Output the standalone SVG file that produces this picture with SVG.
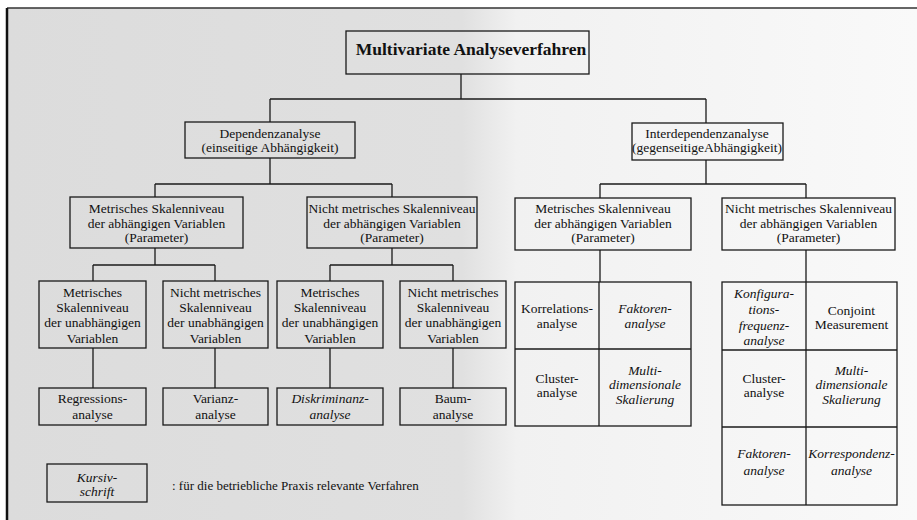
<svg xmlns="http://www.w3.org/2000/svg" width="917" height="520" viewBox="0 0 917 520">
<defs>
<linearGradient id="bg" x1="0" y1="0" x2="1" y2="0">
<stop offset="0" stop-color="#dcdcdc"/>
<stop offset="0.5" stop-color="#e0e0e0"/>
<stop offset="0.56" stop-color="#f1f1f1"/>
<stop offset="1" stop-color="#f9f9f9"/>
</linearGradient>
<style>
.b{fill:none;stroke:#1a1a1a;stroke-width:1.3}
.c line{stroke:#1a1a1a;stroke-width:1.3}
text{font-family:'Liberation Serif','Times New Roman',serif;font-size:13.5px;fill:#111;text-anchor:middle}
.i{font-style:italic}
.t{font-size:17.5px;font-weight:bold}
.l{text-anchor:start;font-size:13px}
</style>
</defs>
<rect x="0" y="0" width="917" height="520" fill="#fff"/>
<rect x="7" y="8" width="910" height="512" fill="url(#bg)"/>
<line x1="7" y1="8" x2="917" y2="8" stroke="#333" stroke-width="1.5"/>
<line x1="7" y1="8" x2="7" y2="520" stroke="#111" stroke-width="2.5"/>

<g id="connectors" class="c">
<line x1="461" y1="74" x2="461" y2="99"/>
<line x1="270" y1="99" x2="706" y2="99"/>
<line x1="270" y1="99" x2="270" y2="122"/>
<line x1="706" y1="99" x2="706" y2="123"/>
<line x1="270" y1="158" x2="270" y2="184"/>
<line x1="155" y1="184" x2="392" y2="184"/>
<line x1="155" y1="184" x2="155" y2="197"/>
<line x1="392" y1="184" x2="392" y2="197"/>
<line x1="706" y1="160" x2="706" y2="184"/>
<line x1="600" y1="184" x2="806" y2="184"/>
<line x1="600" y1="184" x2="600" y2="198"/>
<line x1="806" y1="184" x2="806" y2="198"/>
<line x1="155" y1="248" x2="155" y2="265"/>
<line x1="93" y1="265" x2="215" y2="265"/>
<line x1="93" y1="265" x2="93" y2="281"/>
<line x1="215" y1="265" x2="215" y2="281"/>
<line x1="392" y1="248" x2="392" y2="265"/>
<line x1="330" y1="265" x2="453" y2="265"/>
<line x1="330" y1="265" x2="330" y2="281"/>
<line x1="453" y1="265" x2="453" y2="281"/>
<line x1="93" y1="348" x2="93" y2="388"/>
<line x1="215" y1="348" x2="215" y2="388"/>
<line x1="330" y1="348" x2="330" y2="388"/>
<line x1="453" y1="348" x2="453" y2="388"/>
<line x1="600" y1="250" x2="600" y2="282"/>
<line x1="806" y1="250" x2="806" y2="282"/>
</g>

<g font-family="Liberation Serif, Times New Roman, serif">
<g id="title">
<rect class="b" x="346" y="31" width="243" height="43"/>
<text class="t" x="471" y="55">Multivariate Analyseverfahren</text>
</g>

<g id="dependenz">
<rect class="b" x="185" y="122" width="170" height="36"/>
<text x="270" y="137.5">Dependenzanalyse</text>
<text x="270" y="151.5">(einseitige Abhängigkeit)</text>
</g>
<g id="interdependenz">
<rect class="b" x="632" y="123" width="151" height="37"/>
<text x="707" y="138">Interdependenzanalyse</text>
<text x="707" y="152">(gegenseitigeAbhängigkeit)</text>
</g>

<g id="dep-metrisch">
<rect class="b" x="70" y="197" width="173" height="51"/>
<text x="156.5" y="213">Metrisches Skalenniveau</text>
<text x="156.5" y="227.5">der abhängigen Variablen</text>
<text x="156.5" y="242">(Parameter)</text>
</g>
<g id="dep-nichtmetrisch">
<rect class="b" x="307" y="197" width="170" height="51"/>
<text x="392" y="213">Nicht metrisches Skalenniveau</text>
<text x="392" y="227.5">der abhängigen Variablen</text>
<text x="392" y="242">(Parameter)</text>
</g>
<g id="int-metrisch">
<rect class="b" x="515" y="198" width="176" height="52"/>
<text x="603" y="213">Metrisches Skalenniveau</text>
<text x="603" y="227.5">der abhängigen Variablen</text>
<text x="603" y="242">(Parameter)</text>
</g>
<g id="int-nichtmetrisch">
<rect class="b" x="722" y="198" width="173" height="52"/>
<text x="808.5" y="213">Nicht metrisches Skalenniveau</text>
<text x="808.5" y="227.5">der abhängigen Variablen</text>
<text x="808.5" y="242">(Parameter)</text>
</g>

<g id="mm">
<rect class="b" x="39" y="281" width="107" height="67"/>
<text x="92.5" y="296.5">Metrisches</text>
<text x="92.5" y="311.5">Skalenniveau</text>
<text x="92.5" y="327">der unabhängigen</text>
<text x="92.5" y="342.5">Variablen</text>
</g>
<g id="mn">
<rect class="b" x="163" y="281" width="105" height="67"/>
<text x="215.5" y="296.5">Nicht metrisches</text>
<text x="215.5" y="311.5">Skalenniveau</text>
<text x="215.5" y="327">der unabhängigen</text>
<text x="215.5" y="342.5">Variablen</text>
</g>
<g id="nm">
<rect class="b" x="277" y="281" width="106" height="67"/>
<text x="330" y="296.5">Metrisches</text>
<text x="330" y="311.5">Skalenniveau</text>
<text x="330" y="327">der unabhängigen</text>
<text x="330" y="342.5">Variablen</text>
</g>
<g id="nn">
<rect class="b" x="400" y="281" width="106" height="67"/>
<text x="453" y="296.5">Nicht metrisches</text>
<text x="453" y="311.5">Skalenniveau</text>
<text x="453" y="327">der unabhängigen</text>
<text x="453" y="342.5">Variablen</text>
</g>

<g id="regression">
<rect class="b" x="39" y="388" width="107" height="37"/>
<text x="92.5" y="402.5">Regressions-</text>
<text x="92.5" y="418.5">analyse</text>
</g>
<g id="varianz">
<rect class="b" x="163" y="388" width="105" height="37"/>
<text x="215.5" y="402.5">Varianz-</text>
<text x="215.5" y="418.5">analyse</text>
</g>
<g id="diskriminanz">
<rect class="b" x="277" y="388" width="106" height="37"/>
<text class="i" x="330" y="402.5">Diskriminanz-</text>
<text class="i" x="330" y="418.5">analyse</text>
</g>
<g id="baum">
<rect class="b" x="400" y="388" width="106" height="37"/>
<text x="453" y="402.5">Baum-</text>
<text x="453" y="418.5">analyse</text>
</g>

<g id="grid-metrisch">
<rect class="b" x="515" y="282" width="176" height="144"/>
<line class="b" x1="599" y1="282" x2="599" y2="426"/>
<line class="b" x1="515" y1="349" x2="691" y2="349"/>
<text x="557" y="312.5">Korrelations-</text>
<text x="557" y="327.5">analyse</text>
<text class="i" x="645" y="312.5">Faktoren-</text>
<text class="i" x="645" y="327.5">analyse</text>
<text x="557" y="382.5">Cluster-</text>
<text x="557" y="396.5">analyse</text>
<text class="i" x="645" y="374.5">Multi-</text>
<text class="i" x="645" y="388.5">dimensionale</text>
<text class="i" x="645" y="403.5">Skalierung</text>
</g>

<g id="grid-nichtmetrisch">
<rect class="b" x="722" y="282" width="175" height="223"/>
<line class="b" x1="806" y1="282" x2="806" y2="505"/>
<line class="b" x1="722" y1="350" x2="897" y2="350"/>
<line class="b" x1="722" y1="427" x2="897" y2="427"/>
<text class="i" x="764" y="297.5">Konfigura-</text>
<text class="i" x="764" y="313.5">tions-</text>
<text class="i" x="764" y="329.5">frequenz-</text>
<text class="i" x="764" y="344.5">analyse</text>
<text x="851.5" y="314.5">Conjoint</text>
<text x="851.5" y="328.5">Measurement</text>
<text x="764" y="382.5">Cluster-</text>
<text x="764" y="396.5">analyse</text>
<text class="i" x="851.5" y="374.5">Multi-</text>
<text class="i" x="851.5" y="389">dimensionale</text>
<text class="i" x="851.5" y="404">Skalierung</text>
<text class="i" x="764" y="457.5">Faktoren-</text>
<text class="i" x="764" y="475">analyse</text>
<text class="i" x="851.5" y="457.5">Korrespondenz-</text>
<text class="i" x="851.5" y="475">analyse</text>
</g>

<g id="legend">
<rect class="b" x="47" y="464" width="100" height="38"/>
<text class="i" x="97" y="481.5">Kursiv-</text>
<text class="i" x="97" y="495.5">schrift</text>
<text class="l" x="172" y="489.5">: für die betriebliche Praxis relevante Verfahren</text>
</g>
</g>
</svg>
